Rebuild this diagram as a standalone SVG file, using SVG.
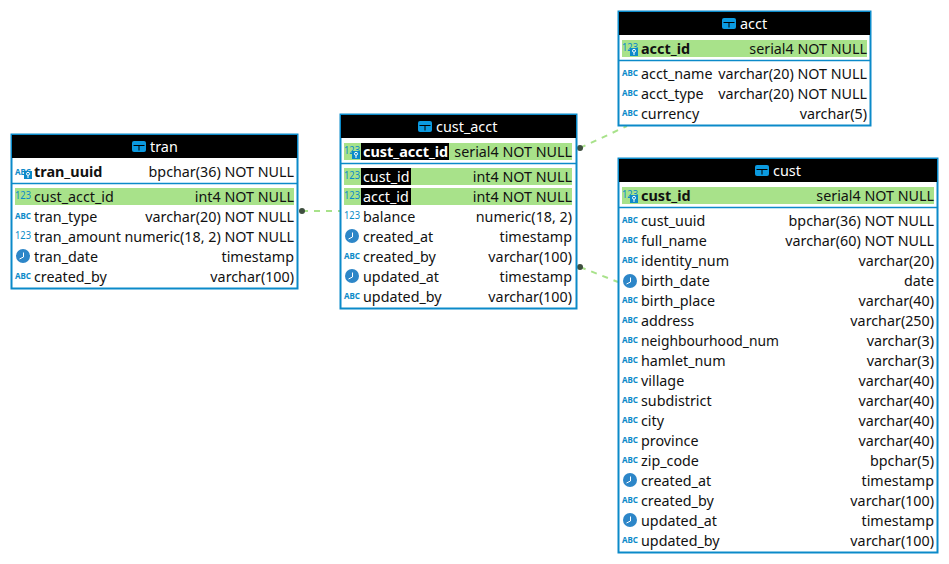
<svg xmlns="http://www.w3.org/2000/svg" width="949" height="564" viewBox="0 0 949 564">
<style>
text{font-family:"Noto Sans","Liberation Sans",sans-serif;font-size:14.3px;fill:#111}
.box{fill:#fff;stroke:#0b8ac9;stroke-width:2}
.hd{fill:#000}
.t{fill:#fff;font-size:14.4px}
.b{font-weight:700;font-size:14.4px}
.w{fill:#fff}
.r{text-anchor:end}
.g{fill:#a8e28a}
.k{fill:#000}
.div{stroke:#0b8ac9;stroke-width:1.5}
.n{font-size:10.5px;fill:#0b8ac9}
.a{font-size:9px;font-weight:700;fill:#0b8ac9}
.c{fill:none;stroke:#a8e28a;stroke-width:2;stroke-dasharray:6 6}
.d{fill:#3f4f3f}
</style>
<defs>
<g id="ti"><rect x="0" y="0" width="14" height="11" rx="2" fill="#0b9ae0"/><path d="M1.500 4.500H12.500M7 4.500V9.500" stroke="#000" stroke-width="1" fill="none"/></g>
<g id="cl"><circle cx="7" cy="7" r="7" fill="#2d86c8"/><path d="M7.500 3.500V8L3.500 10" stroke="#fff" stroke-width="1" fill="none"/></g>
<g id="ky"><rect x="0" y="0" width="8" height="8" fill="#0b8ac9"/><circle cx="4" cy="2.800" r="1.500" fill="none" stroke="#fff" stroke-width="1"/><path d="M4 4.300V7" stroke="#fff"/></g>
</defs>
<g id="connectors">
<path class="c" d="M302 211H340"/><circle class="d" cx="302" cy="211" r="3"/>
<path class="c" d="M580 148L627 126"/><circle class="d" cx="580" cy="148" r="3"/>
<path class="c" d="M580 267L618 282"/><circle class="d" cx="580" cy="267" r="3"/>
</g>
<g id="tran">
<rect class="box" x="11.500" y="134.500" width="286" height="154"/>
<rect class="hd" x="12" y="135" width="285" height="23"/>
<use href="#ti" x="132" y="141"/><text class="t" x="150" y="152">tran</text>
<text class="a" x="15" y="175" textLength="16" lengthAdjust="spacingAndGlyphs">ABC</text><use href="#ky" x="24" y="171"/><text class="b" x="34" y="177">tran_uuid</text><text class="r" x="294" y="177">bpchar(36) NOT NULL</text>
<line class="div" x1="12" x2="297" y1="183.500" y2="183.500"/>
<rect class="g" x="15" y="188" width="279" height="17"/>
<text class="n" x="15" y="199" textLength="16" lengthAdjust="spacingAndGlyphs">123</text><text x="34" y="202">cust_acct_id</text><text class="r" x="294" y="202">int4 NOT NULL</text>
<text class="a" x="15" y="219" textLength="16" lengthAdjust="spacingAndGlyphs">ABC</text><text x="34" y="222">tran_type</text><text class="r" x="294" y="222">varchar(20) NOT NULL</text>
<text class="n" x="15" y="239" textLength="16" lengthAdjust="spacingAndGlyphs">123</text><text x="34" y="242">tran_amount</text><text class="r" x="294" y="242">numeric(18, 2) NOT NULL</text>
<use href="#cl" x="16" y="249"/><text x="34" y="262">tran_date</text><text class="r" x="294" y="262">timestamp</text>
<text class="a" x="15" y="279" textLength="16" lengthAdjust="spacingAndGlyphs">ABC</text><text x="34" y="282">created_by</text><text class="r" x="294" y="282">varchar(100)</text>
</g>
<g id="cust_acct">
<rect class="box" x="340.500" y="114.500" width="236" height="194"/>
<rect class="hd" x="341" y="115" width="235" height="23"/>
<use href="#ti" x="418" y="121"/><text class="t" x="436" y="132">cust_acct</text>
<rect class="g" x="344" y="143" width="228" height="17"/>
<text class="n" x="344" y="154" textLength="16" lengthAdjust="spacingAndGlyphs">123</text><use href="#ky" x="352" y="151"/>
<rect class="k" x="361" y="143" width="88" height="17"/><text class="b w" x="363" y="157">cust_acct_id</text><text class="r" x="572" y="157">serial4 NOT NULL</text>
<line class="div" x1="341" x2="576" y1="163.500" y2="163.500"/>
<rect class="g" x="344" y="168" width="228" height="17"/><text class="n" x="344" y="179" textLength="16" lengthAdjust="spacingAndGlyphs">123</text><rect class="k" x="361" y="168" width="50" height="17"/><text class="w" x="363" y="182">cust_id</text><text class="r" x="572" y="182">int4 NOT NULL</text>
<rect class="g" x="344" y="188" width="228" height="17"/><text class="n" x="344" y="199" textLength="16" lengthAdjust="spacingAndGlyphs">123</text><rect class="k" x="361" y="188" width="50" height="17"/><text class="w" x="363" y="202">acct_id</text><text class="r" x="572" y="202">int4 NOT NULL</text>
<text class="n" x="344" y="219" textLength="16" lengthAdjust="spacingAndGlyphs">123</text><text x="363" y="222">balance</text><text class="r" x="572" y="222">numeric(18, 2)</text>
<use href="#cl" x="345" y="229"/><text x="363" y="242">created_at</text><text class="r" x="572" y="242">timestamp</text>
<text class="a" x="344" y="259" textLength="16" lengthAdjust="spacingAndGlyphs">ABC</text><text x="363" y="262">created_by</text><text class="r" x="572" y="262">varchar(100)</text>
<use href="#cl" x="345" y="269"/><text x="363" y="282">updated_at</text><text class="r" x="572" y="282">timestamp</text>
<text class="a" x="344" y="299" textLength="16" lengthAdjust="spacingAndGlyphs">ABC</text><text x="363" y="302">updated_by</text><text class="r" x="572" y="302">varchar(100)</text>
</g>
<g id="acct">
<rect class="box" x="618.500" y="11.500" width="252" height="114"/>
<rect class="hd" x="619" y="12" width="251" height="23"/>
<use href="#ti" x="722" y="18"/><text class="t" x="740" y="29">acct</text>
<rect class="g" x="622" y="40" width="245" height="17"/>
<text class="n" x="622" y="51" textLength="16" lengthAdjust="spacingAndGlyphs">123</text><use href="#ky" x="630" y="48"/><text class="b" x="641" y="54">acct_id</text><text class="r" x="867" y="54">serial4 NOT NULL</text>
<line class="div" x1="619" x2="870" y1="60.500" y2="60.500"/>
<text class="a" x="622" y="76" textLength="16" lengthAdjust="spacingAndGlyphs">ABC</text><text x="641" y="79">acct_name</text><text class="r" x="867" y="79">varchar(20) NOT NULL</text>
<text class="a" x="622" y="96" textLength="16" lengthAdjust="spacingAndGlyphs">ABC</text><text x="641" y="99">acct_type</text><text class="r" x="867" y="99">varchar(20) NOT NULL</text>
<text class="a" x="622" y="116" textLength="16" lengthAdjust="spacingAndGlyphs">ABC</text><text x="641" y="119">currency</text><text class="r" x="867" y="119">varchar(5)</text>
</g>
<g id="cust">
<rect class="box" x="618.500" y="158.500" width="319" height="394"/>
<rect class="hd" x="619" y="159" width="318" height="23"/>
<use href="#ti" x="755" y="165"/><text class="t" x="773" y="176">cust</text>
<rect class="g" x="622" y="187" width="312" height="17"/>
<text class="n" x="622" y="198" textLength="16" lengthAdjust="spacingAndGlyphs">123</text><use href="#ky" x="630" y="195"/><text class="b" x="641" y="201">cust_id</text><text class="r" x="934" y="201">serial4 NOT NULL</text>
<line class="div" x1="619" x2="937" y1="207.500" y2="207.500"/>
<text class="a" x="622" y="223" textLength="16" lengthAdjust="spacingAndGlyphs">ABC</text><text x="641" y="226">cust_uuid</text><text class="r" x="934" y="226">bpchar(36) NOT NULL</text>
<text class="a" x="622" y="243" textLength="16" lengthAdjust="spacingAndGlyphs">ABC</text><text x="641" y="246">full_name</text><text class="r" x="934" y="246">varchar(60) NOT NULL</text>
<text class="a" x="622" y="263" textLength="16" lengthAdjust="spacingAndGlyphs">ABC</text><text x="641" y="266">identity_num</text><text class="r" x="934" y="266">varchar(20)</text>
<use href="#cl" x="623" y="274"/><text x="641" y="286">birth_date</text><text class="r" x="934" y="286">date</text>
<text class="a" x="622" y="303" textLength="16" lengthAdjust="spacingAndGlyphs">ABC</text><text x="641" y="306">birth_place</text><text class="r" x="934" y="306">varchar(40)</text>
<text class="a" x="622" y="323" textLength="16" lengthAdjust="spacingAndGlyphs">ABC</text><text x="641" y="326">address</text><text class="r" x="934" y="326">varchar(250)</text>
<text class="a" x="622" y="343" textLength="16" lengthAdjust="spacingAndGlyphs">ABC</text><text x="641" y="346" textLength="138" lengthAdjust="spacingAndGlyphs">neighbourhood_num</text><text class="r" x="934" y="346">varchar(3)</text>
<text class="a" x="622" y="363" textLength="16" lengthAdjust="spacingAndGlyphs">ABC</text><text x="641" y="366">hamlet_num</text><text class="r" x="934" y="366">varchar(3)</text>
<text class="a" x="622" y="383" textLength="16" lengthAdjust="spacingAndGlyphs">ABC</text><text x="641" y="386">village</text><text class="r" x="934" y="386">varchar(40)</text>
<text class="a" x="622" y="403" textLength="16" lengthAdjust="spacingAndGlyphs">ABC</text><text x="641" y="406">subdistrict</text><text class="r" x="934" y="406">varchar(40)</text>
<text class="a" x="622" y="423" textLength="16" lengthAdjust="spacingAndGlyphs">ABC</text><text x="641" y="426">city</text><text class="r" x="934" y="426">varchar(40)</text>
<text class="a" x="622" y="443" textLength="16" lengthAdjust="spacingAndGlyphs">ABC</text><text x="641" y="446">province</text><text class="r" x="934" y="446">varchar(40)</text>
<text class="a" x="622" y="463" textLength="16" lengthAdjust="spacingAndGlyphs">ABC</text><text x="641" y="466">zip_code</text><text class="r" x="934" y="466">bpchar(5)</text>
<use href="#cl" x="623" y="473"/><text x="641" y="486">created_at</text><text class="r" x="934" y="486">timestamp</text>
<text class="a" x="622" y="503" textLength="16" lengthAdjust="spacingAndGlyphs">ABC</text><text x="641" y="506">created_by</text><text class="r" x="934" y="506">varchar(100)</text>
<use href="#cl" x="623" y="513"/><text x="641" y="526">updated_at</text><text class="r" x="934" y="526">timestamp</text>
<text class="a" x="622" y="543" textLength="16" lengthAdjust="spacingAndGlyphs">ABC</text><text x="641" y="546">updated_by</text><text class="r" x="934" y="546">varchar(100)</text>
</g>
</svg>
